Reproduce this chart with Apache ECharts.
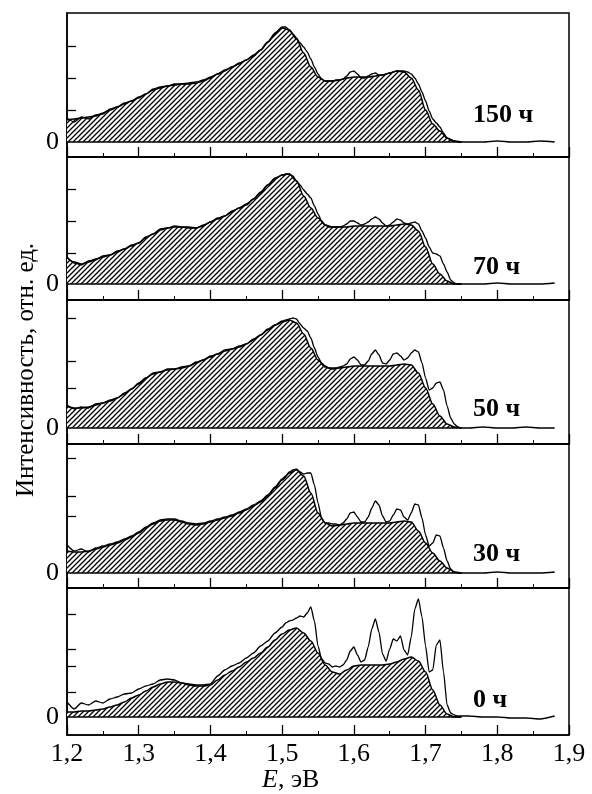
<!DOCTYPE html>
<html>
<head>
<meta charset="utf-8">
<script src="https://cdn.jsdelivr.net/npm/echarts@6/dist/echarts.min.js"></script>
<style>
  html, body { margin: 0; padding: 0; background: #fff; }
  #chart { width: 592px; height: 794px; }
</style>
</head>
<body>
<div id="chart"></div>
<script>
// Energy grid of the smooth (hatched) fit curves, eV
const fitE = [
  1.20, 1.21, 1.22, 1.23, 1.24, 1.25, 1.26, 1.27, 1.28, 1.29,
  1.30, 1.31, 1.32, 1.33, 1.34, 1.35, 1.36, 1.37, 1.38, 1.39,
  1.40, 1.41, 1.42, 1.43, 1.44, 1.45, 1.46, 1.47, 1.48, 1.49,
  1.50, 1.51, 1.52, 1.53, 1.54, 1.55, 1.56, 1.57, 1.58, 1.59,
  1.60, 1.61, 1.62, 1.63, 1.64, 1.65, 1.66, 1.67, 1.68, 1.69,
  1.70, 1.71, 1.72, 1.73, 1.74, 1.75
];

// Energy grid of the measured spectra, eV
const lineE = [
  1.20, 1.21, 1.22, 1.23, 1.24, 1.25, 1.26, 1.27, 1.28, 1.29,
  1.30, 1.31, 1.32, 1.33, 1.34, 1.35, 1.36, 1.37, 1.38, 1.39,
  1.40, 1.41, 1.42, 1.43, 1.44, 1.45, 1.46, 1.47, 1.48, 1.49,
  1.50,
  1.505, 1.51, 1.515, 1.52, 1.525, 1.53, 1.535, 1.54, 1.545, 1.55,
  1.555, 1.56, 1.565, 1.57, 1.575, 1.58, 1.585, 1.59, 1.595, 1.60,
  1.605, 1.61, 1.615, 1.62, 1.625, 1.63, 1.635, 1.64, 1.645, 1.65,
  1.655, 1.66, 1.665, 1.67, 1.675, 1.68, 1.685, 1.69, 1.695, 1.70,
  1.705, 1.71, 1.715, 1.72, 1.725, 1.73, 1.735, 1.74, 1.745, 1.75,
  1.76, 1.78, 1.80, 1.82, 1.84, 1.86, 1.88
];

const panelLabels = ['150 ч', '70 ч', '50 ч', '30 ч', '0 ч'];
const xTickLabels = ['1,2', '1,3', '1,4', '1,5', '1,6', '1,7', '1,8', '1,9'];

// Hatched fit curves (relative intensity)
const fit150 = [
  22, 23, 24, 25, 26, 29, 32, 35, 38, 41,
  44, 48, 52, 54, 56, 57, 58, 58, 59, 61,
  64, 68, 71, 75, 78, 82, 86, 92, 100, 108,
  114, 112, 103, 89, 75, 65, 61, 61, 62, 64,
  65, 65, 65, 66, 67, 69, 71, 70, 64, 52,
  32, 18, 11, 4, 1, 0
];
const fit70 = [
  26, 22, 20, 22, 25, 27, 29, 32, 35, 38,
  41, 46, 50, 54, 56, 57, 57, 56, 56, 58,
  62, 65, 68, 72, 76, 79, 85, 91, 99, 105,
  109, 110, 103, 88, 76, 66, 59, 57, 57, 57,
  58, 58, 58, 58, 58, 58, 59, 60, 59, 53,
  37, 20, 10, 3, 0, 0
];
const fit50 = [
  22, 20, 20, 21, 23, 25, 27, 30, 34, 39,
  44, 50, 54, 56, 58, 59, 60, 62, 65, 68,
  71, 74, 77, 79, 81, 84, 88, 93, 98, 103,
  106, 108, 105, 94, 80, 68, 61, 59, 60, 61,
  62, 62, 62, 62, 62, 62, 63, 64, 63, 55,
  40, 24, 12, 4, 1, 0
];
const fit30 = [
  22, 21, 21, 22, 24, 26, 28, 30, 33, 36,
  40, 45, 49, 52, 53, 53, 51, 49, 48, 49,
  51, 53, 55, 57, 60, 63, 67, 71, 77, 85,
  93, 100, 103, 97, 80, 60, 50, 47, 48, 49,
  50, 50, 50, 50, 50, 50, 51, 52, 51, 42,
  30, 20, 12, 5, 1, 0
];
const fit0 = [
  5, 5, 6, 6, 7, 8, 10, 12, 15, 19,
  22, 26, 30, 33, 35, 35, 34, 32, 31, 31,
  32, 37, 42, 46, 50, 55, 59, 64, 70, 77,
  83, 87, 89, 84, 76, 64, 52, 45, 43, 47,
  51, 52, 52, 52, 52, 53, 55, 58, 60, 56,
  45, 27, 12, 3, 0, 0
];

// Measured spectra (relative intensity)
const line150 = [
  24, 20, 25, 23, 27, 28, 33, 35, 39, 41, 45, 48, 53, 55, 56, 58, 58, 59, 60, 62,
  65, 68, 72, 75, 79, 82, 87, 92, 100, 109, 115,
  115, 112, 108, 104, 99, 95, 90, 83, 75, 68,
  63, 61, 61, 61, 62, 62, 63, 66, 70, 71,
  68, 64, 64, 66, 68, 69, 67, 67, 68, 69,
  70, 71, 71, 71, 70, 68, 64, 58, 50, 41,
  31, 23, 19, 15, 9, 4, 2, 1, 0, 0,
  0, 0, 1, 0, 0, 1, 0
];
const line70 = [
  27, 21, 19, 23, 24, 28, 29, 33, 35, 39, 41, 47, 50, 55, 56, 58, 57, 57, 56, 59,
  62, 66, 68, 73, 76, 80, 85, 92, 99, 106, 109,
  110, 110, 108, 103, 99, 94, 90, 86, 78, 70,
  63, 59, 57, 57, 57, 57, 58, 60, 63, 63,
  61, 59, 60, 62, 65, 67, 65, 61, 58, 59,
  62, 65, 64, 61, 60, 61, 62, 60, 53, 46,
  37, 31, 30, 28, 20, 12, 4, 1, 0, 0,
  0, 0, 1, 0, 0, 0, 1
];
const line50 = [
  23, 19, 21, 20, 24, 25, 28, 30, 35, 39, 45, 50, 55, 56, 59, 59, 61, 62, 66, 68,
  72, 74, 78, 79, 82, 84, 89, 93, 99, 103, 107,
  108, 109, 110, 109, 104, 100, 97, 90, 80, 71,
  65, 62, 60, 60, 60, 61, 62, 64, 69, 71,
  68, 63, 63, 67, 74, 78, 73, 65, 64, 68,
  74, 75, 72, 68, 70, 75, 78, 76, 65, 50,
  38, 40, 45, 46, 38, 22, 10, 4, 1, 0,
  0, 1, 0, 0, 1, 0, 0
];
const line30 = [
  28, 22, 24, 21, 25, 27, 29, 31, 34, 37, 41, 46, 50, 53, 54, 54, 52, 50, 49, 50,
  52, 54, 56, 58, 61, 64, 68, 72, 78, 86, 94,
  97, 101, 103, 104, 101, 99, 100, 100, 88, 70,
  55, 50, 50, 49, 49, 48, 50, 54, 60, 61,
  56, 51, 51, 56, 65, 72, 68, 57, 51, 52,
  58, 64, 63, 56, 53, 60, 69, 68, 55, 38,
  27, 30, 38, 37, 25, 12, 4, 1, 0, 0,
  0, 0, 1, 0, 0, 0, 1
];
const line0 = [
  15, 8, 14, 12, 16, 14, 18, 20, 23, 24, 28, 31, 33, 37, 38, 37, 34, 33, 32, 32,
  33, 41, 47, 51, 54, 59, 64, 71, 76, 84, 90,
  94, 96, 97, 99, 101, 100, 104, 110, 96, 71,
  58, 54, 53, 50, 51, 50, 52, 57, 66, 70,
  62, 55, 57, 70, 88, 98, 85, 63, 56, 68,
  78, 76, 81, 67, 62, 80, 108, 118, 100, 71,
  45, 47, 72, 77, 45, 12, 4, 2, 1, 1,
  1, 0, 0, -1, -1, -2, 1
];

// Minor y tick positions per panel (same units)
const yTicks150 = [32, 64, 96];
const yTicks70 = [31, 63, 95];
const yTicks50 = [40, 67, 110];
const yTicks30 = [57, 77, 115];
const yTicks0 = [25, 51, 68, 103];

const fits = [fit150, fit70, fit50, fit30, fit0];
const lines = [line150, line70, line50, line30, line0];
const yTicks = [yTicks150, yTicks70, yTicks50, yTicks30, yTicks0];

// Layout (pixels)
const panelTop = [13, 157, 300, 444, 588];
const panelBottom = [157, 300, 444, 588, 735];
const zeroY = [142, 284, 428, 573, 717];
const labelY = [116, 268, 410, 555, 701];

const serif = '"Liberation Serif", "Times New Roman", serif';

function makeHatch() {
  const s = 5;
  const c = document.createElement('canvas');
  c.width = s; c.height = s;
  const g = c.getContext('2d');
  g.fillStyle = '#fff';
  g.fillRect(0, 0, s, s);
  g.strokeStyle = '#000';
  g.lineWidth = 1.3;
  g.beginPath();
  g.moveTo(0, s); g.lineTo(s, 0);
  g.moveTo(-1, 1); g.lineTo(1, -1);
  g.moveTo(s - 1, s + 1); g.lineTo(s + 1, s - 1);
  g.stroke();
  return c;
}

const chart = echarts.init(document.getElementById('chart'), null, { renderer: 'canvas' });
const hatch = makeHatch();

const grids = [], xAxes = [], yAxes = [], series = [], graphics = [];

for (let i = 0; i < 5; i++) {
  grids.push({
    left: 67, width: 502,
    top: panelTop[i], height: panelBottom[i] - panelTop[i],
    show: true, borderColor: '#000', borderWidth: 1.5, backgroundColor: 'transparent'
  });
  xAxes.push({
    type: 'value', gridIndex: i, min: 1.2, max: 1.9, interval: 0.1,
    axisLine: { show: true, onZero: false, lineStyle: { color: '#000', width: 1.5 } },
    axisTick: { show: true, inside: true, length: 10, lineStyle: { color: '#000', width: 1.3 } },
    minorTick: { show: true, splitNumber: 2, length: 4, lineStyle: { color: '#000', width: 1 } },
    splitLine: { show: false },
    axisLabel: {
      show: i === 4, color: '#000', fontFamily: serif, fontSize: 26, margin: 6,
      formatter: v => xTickLabels[Math.round((v - 1.2) * 10)]
    }
  });
  yAxes.push({
    type: 'value', gridIndex: i,
    min: zeroY[i] - panelBottom[i], max: zeroY[i] - panelTop[i],
    axisLine: { show: true, onZero: false, lineStyle: { color: '#000', width: 1.5 } },
    axisTick: { show: true, inside: true, length: 9, customValues: yTicks[i], lineStyle: { color: '#000', width: 1.3 } },
    axisLabel: { customValues: [0], formatter: () => '0', color: '#000', fontFamily: serif, fontSize: 26, margin: 8 },
    splitLine: { show: false }
  });
  series.push({
    type: 'line', xAxisIndex: i, yAxisIndex: i,
    data: fitE.map((e, k) => [e, fits[i][k]]),
    smooth: 0.3, smoothMonotone: 'x', symbol: 'none', z: 2,
    lineStyle: { color: '#000', width: 1.5 },
    areaStyle: { color: { image: hatch, repeat: 'repeat' }, opacity: 1 },
    markLine: {
      silent: true, symbol: 'none', label: { show: false },
      lineStyle: { color: '#000', width: 1.6, type: 'solid' },
      data: [[{ coord: [fitE[0], 0] }, { coord: [fitE[fitE.length - 1], 0] }]]
    }
  });
  series.push({
    type: 'line', xAxisIndex: i, yAxisIndex: i,
    data: lineE.map((e, k) => [e, lines[i][k]]),
    smooth: 0.2, smoothMonotone: 'x', symbol: 'none', z: 3,
    lineStyle: { color: '#000', width: 1.3 }
  });
  graphics.push({
    type: 'text', left: 473, top: labelY[i] - 14,
    style: { text: panelLabels[i], font: 'bold 26px ' + serif, fill: '#000' }
  });
}

graphics.push({
  type: 'text', left: 262, top: 767,
  style: {
    text: '{i|E}, эВ',
    rich: { i: { fontStyle: 'italic', fontFamily: serif, fontSize: 26 } },
    fontFamily: serif, fontSize: 26, fill: '#000'
  }
});
graphics.push({
  type: 'text', x: 26, y: 370, rotation: Math.PI / 2,
  style: {
    text: 'Интенсивность, отн. ед.', fontFamily: serif, fontSize: 25,
    fill: '#000', align: 'center', verticalAlign: 'middle'
  }
});

chart.setOption({
  animation: false,
  backgroundColor: '#fff',
  grid: grids,
  xAxis: xAxes,
  yAxis: yAxes,
  series: series,
  graphic: graphics
});
</script>
</body>
</html>
